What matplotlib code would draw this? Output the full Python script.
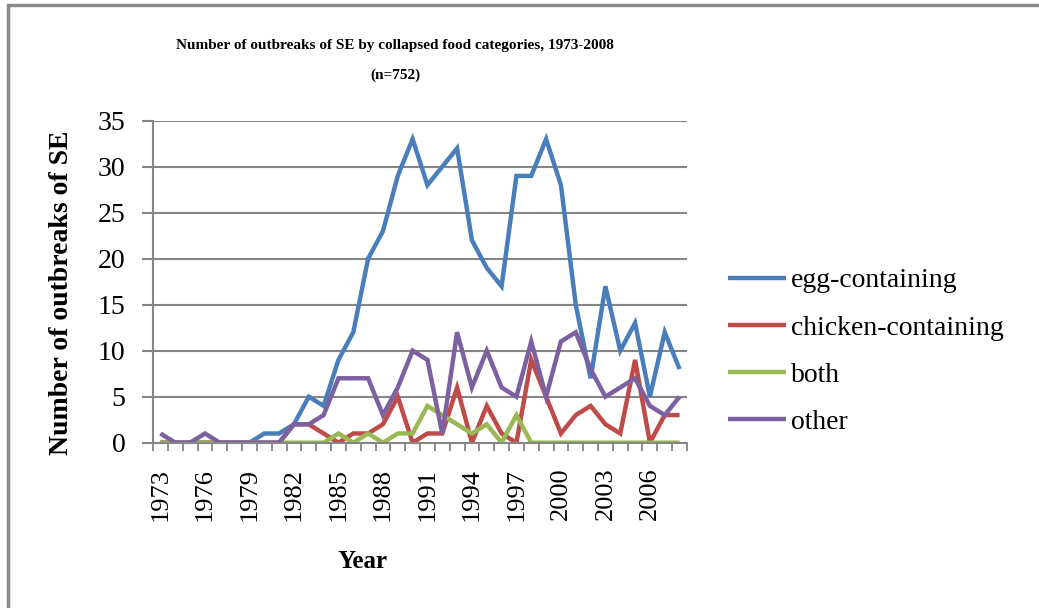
import numpy as np
import matplotlib
matplotlib.use("Agg")
import matplotlib.pyplot as plt
from matplotlib.patches import Rectangle


years = list(range(1973, 2009))

egg = [0, 0, 0, 0, 0, 0, 0, 1, 1, 2, 5, 4, 9, 12, 20, 23, 29, 33,
       28, 30, 32, 22, 19, 17, 29, 29, 33, 28, 15, 7, 17, 10, 13, 5, 12, 8]
chicken = [0, 0, 0, 0, 0, 0, 0, 0, 0, 2, 2, 1, 0, 1, 1, 2, 5, 0,
           1, 1, 6, 0, 4, 1, 0, 9, 5, 1, 3, 4, 2, 1, 9, 0, 3, 3]
both = [0, 0, 0, 0, 0, 0, 0, 0, 0, 0, 0, 0, 1, 0, 1, 0, 1, 1,
        4, 3, 2, 1, 2, 0, 3, 0, 0, 0, 0, 0, 0, 0, 0, 0, 0, 0]
other = [1, 0, 0, 1, 0, 0, 0, 0, 0, 2, 2, 3, 7, 7, 7, 3, 6, 10,
         9, 1, 12, 6, 10, 6, 5, 11, 5, 11, 12, 8, 5, 6, 7, 4, 3, 5]

series_names = ['egg-containing', 'chicken-containing', 'both', 'other']
series_colors = ['#4A7EBB', '#BE4B48', '#98B954', '#7D60A0']

serif = 'Liberation Serif'
grid_col = '#868686'


def main():
    fig = plt.figure(figsize=(10.39, 6.08), dpi=100)
    ax = fig.add_axes([0.1473, 0.2719, 0.6612 - 0.1473, 0.8015 - 0.2719])

    x = np.arange(len(years))
    for vals, name, col in zip([egg, chicken, both, other], series_names, series_colors):
        ax.plot(x, vals, color=col, linewidth=3.2, label=name,
                solid_joinstyle='miter', solid_capstyle='butt')

    ax.set_xlim(-0.5, len(years) - 0.5)
    ax.set_ylim(0, 35)
    ax.set_yticks(range(0, 36, 5))
    ax.yaxis.grid(True, color=grid_col, linewidth=1.5)
    ax.set_axisbelow(True)

    # tick marks between categories, labels every third year
    ax.set_xticks(np.arange(-0.5, len(years), 1.0), minor=True)
    ax.set_xticks(x[::3])
    ax.set_xticklabels([str(y) for y in years[::3]], rotation=90,
                       family=serif, fontsize=19)
    ax.tick_params(axis='x', which='major', length=0, pad=18)
    ax.tick_params(axis='x', which='minor', length=6, width=1.3, color=grid_col)
    ax.tick_params(axis='y', length=8, width=1.5, color=grid_col, pad=12)
    for lab in ax.get_yticklabels():
        lab.set_family(serif)
        lab.set_fontsize(20)

    for s in ['top', 'right']:
        ax.spines[s].set_visible(False)
    for s in ['left', 'bottom']:
        ax.spines[s].set_color(grid_col)
        ax.spines[s].set_linewidth(1.5)

    fig.text(395 / 1039, 1 - 45 / 608, 'Number of outbreaks of SE by collapsed food categories, 1973-2008',
             ha='center', va='center', family=serif, weight='bold', fontsize=11)
    fig.text(395 / 1039, 1 - 75 / 608, '(n=752)',
             ha='center', va='center', family=serif, weight='bold', fontsize=11)
    fig.text(62 / 1039, 1 - 293 / 608, 'Number of outbreaks of SE', rotation=90,
             ha='center', va='center', family=serif, weight='bold', fontsize=20)
    fig.text(362 / 1039, 1 - 562 / 608, 'Year',
             ha='center', va='center', family=serif, weight='bold', fontsize=18)

    ax.legend(loc='upper left', bbox_to_anchor=(728 / 1039, 1 - 268 / 608), bbox_transform=fig.transFigure,
              frameon=False, prop={'family': serif, 'size': 20},
              handlelength=2.1, handletextpad=0.15, labelspacing=0.78, borderaxespad=0,
              borderpad=0)

    fig.patches.append(Rectangle((8 / 1039, -0.05), 1.2, 1 - 5 / 608 + 0.05,
                                 transform=fig.transFigure, fill=False,
                                 edgecolor='#8a8a8a', linewidth=2.5))

    fig.savefig('out.png', dpi=100)


if __name__ == "__main__":
    main()
